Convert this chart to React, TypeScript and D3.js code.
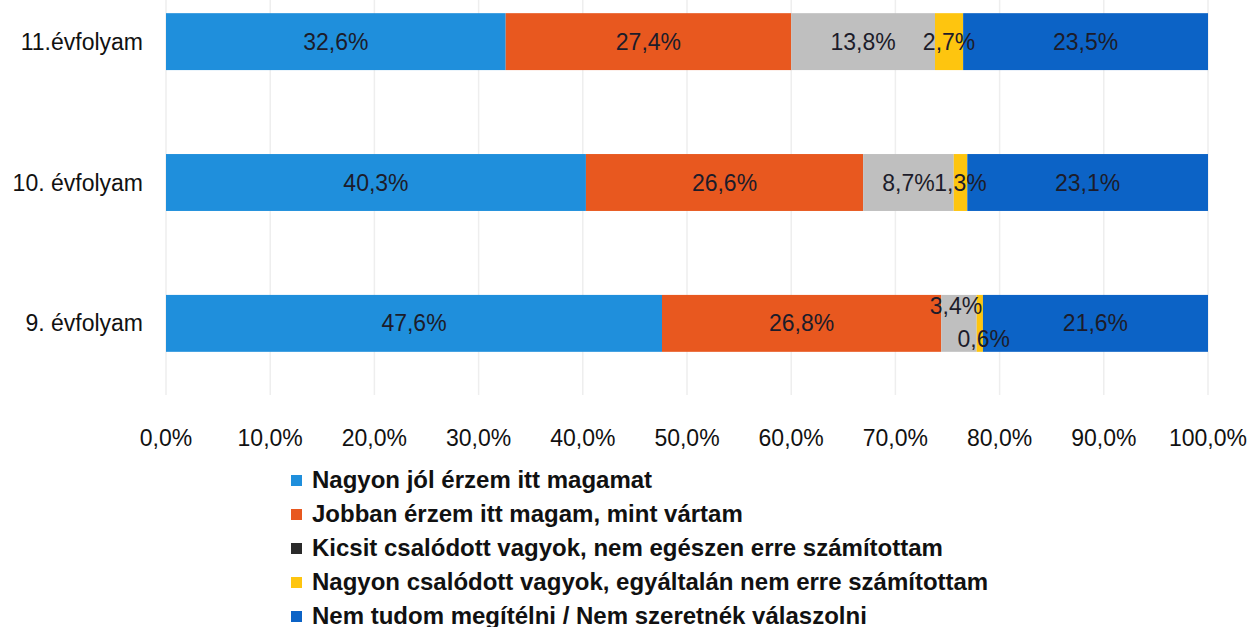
import React, { useRef, useEffect } from 'react';
import * as d3 from 'd3';

const grades = ['11.évfolyam', '10. évfolyam', '9. évfolyam'];
const seriesNames = [
  'Nagyon jól érzem itt magamat',
  'Jobban érzem itt magam, mint vártam',
  'Kicsit csalódott vagyok, nem egészen erre számítottam',
  'Nagyon csalódott vagyok, egyáltalán nem erre számítottam',
  'Nem tudom megítélni / Nem szeretnék válaszolni',
];
// values per grade, in series order
const grade11 = [32.6, 27.4, 13.8, 2.7, 23.5];
const grade10 = [40.3, 26.6, 8.7, 1.3, 23.1];
const grade9 = [47.6, 26.8, 3.4, 0.6, 21.6];
const xTicks = [0, 10, 20, 30, 40, 50, 60, 70, 80, 90, 100];

const colors = ['#1f8fdc', '#e8581f', '#bfbfbf', '#fec50f', '#0c63c6'];
const legendMarks = ['#1f8fdc', '#e8581f', '#2a2a2a', '#fec50f', '#0c63c6'];

const App = () => {
  const ref = useRef<SVGSVGElement>(null);

  useEffect(() => {
    const width = 1250, height = 627;
    const svg = d3.select(ref.current);
    svg.selectAll('*').remove();

    const x = d3.scaleLinear().domain([0, 100]).range([166, 1208]);
    const y = d3.scaleBand().domain(grades).range([-15, 380]).paddingInner(0.596).paddingOuter(0.2);

    const rows = [grade11, grade10, grade9].map((vals, i) => ({ grade: grades[i], vals }));

    // gridlines
    svg.append('g')
      .selectAll('line')
      .data(xTicks)
      .enter()
      .append('line')
        .attr('x1', d => x(d)).attr('x2', d => x(d))
        .attr('y1', 0).attr('y2', 395)
        .attr('stroke', '#eeeeee')
        .attr('stroke-width', 1.5);

    const font = "'Liberation Sans', Arial, sans-serif";

    rows.forEach((row, ri) => {
      let acc = 0;
      const segs = row.vals.map((v, si) => {
        const s = { start: acc, end: acc + v, v, si };
        acc += v;
        return s;
      });
      const g = svg.append('g');
      g.selectAll('rect')
        .data(segs)
        .enter()
        .append('rect')
          .attr('x', d => x(d.start))
          .attr('width', d => x(d.end) - x(d.start))
          .attr('y', y(row.grade)!)
          .attr('height', y.bandwidth())
          .attr('fill', d => colors[d.si]);

      const cy = y(row.grade)! + y.bandwidth() / 2;
      g.selectAll('text')
        .data(segs)
        .enter()
        .append('text')
          .text(d => d.v.toFixed(1).replace('.', ',') + '%')
          .attr('x', d => {
            const c = x((d.start + d.end) / 2);
            if (ri === 2 && d.si === 2) return c - 3;
            if (ri === 2 && d.si === 3) return c + 4;
            return c;
          })
          .attr('y', d => {
            if (ri === 2 && d.si === 2) return cy - 17;
            if (ri === 2 && d.si === 3) return cy + 16;
            return cy;
          })
          .attr('dy', '0.35em')
          .attr('text-anchor', 'middle')
          .attr('font-family', font)
          .attr('font-size', 23)
          .attr('fill', '#1c1c2a');

      svg.append('text')
        .text(row.grade)
        .attr('x', 143)
        .attr('y', cy)
        .attr('dy', '0.35em')
        .attr('text-anchor', 'end')
        .attr('font-family', font)
        .attr('font-size', 23)
        .attr('fill', '#111');
    });

    // x tick labels
    svg.append('g')
      .selectAll('text')
      .data(xTicks)
      .enter()
      .append('text')
        .text(d => d.toFixed(1).replace('.', ',') + '%')
        .attr('x', d => x(d))
        .attr('y', 438)
        .attr('dy', '0.35em')
        .attr('text-anchor', 'middle')
        .attr('font-family', font)
        .attr('font-size', 23)
        .attr('fill', '#111');

    // legend
    const lg = svg.append('g');
    const ly = d3.scaleLinear().domain([0, 4]).range([480, 616]);
    seriesNames.forEach((name, i) => {
      lg.append('rect')
        .attr('x', 291)
        .attr('y', ly(i) - 5)
        .attr('width', 11)
        .attr('height', 11)
        .attr('fill', legendMarks[i]);
      lg.append('text')
        .text(name)
        .attr('x', 312)
        .attr('y', ly(i))
        .attr('dy', '0.35em')
        .attr('font-family', font)
        .attr('font-weight', 'bold')
        .attr('font-size', 24)
        .attr('fill', '#111');
    });

    svg.attr('width', width).attr('height', height);
  }, []);

  return (
    <svg
      ref={ref}
      width={1250}
      height={627}
      style={{ position: 'absolute', left: 0, top: 0, background: '#fff' }}
    />
  );
};

export default App;
